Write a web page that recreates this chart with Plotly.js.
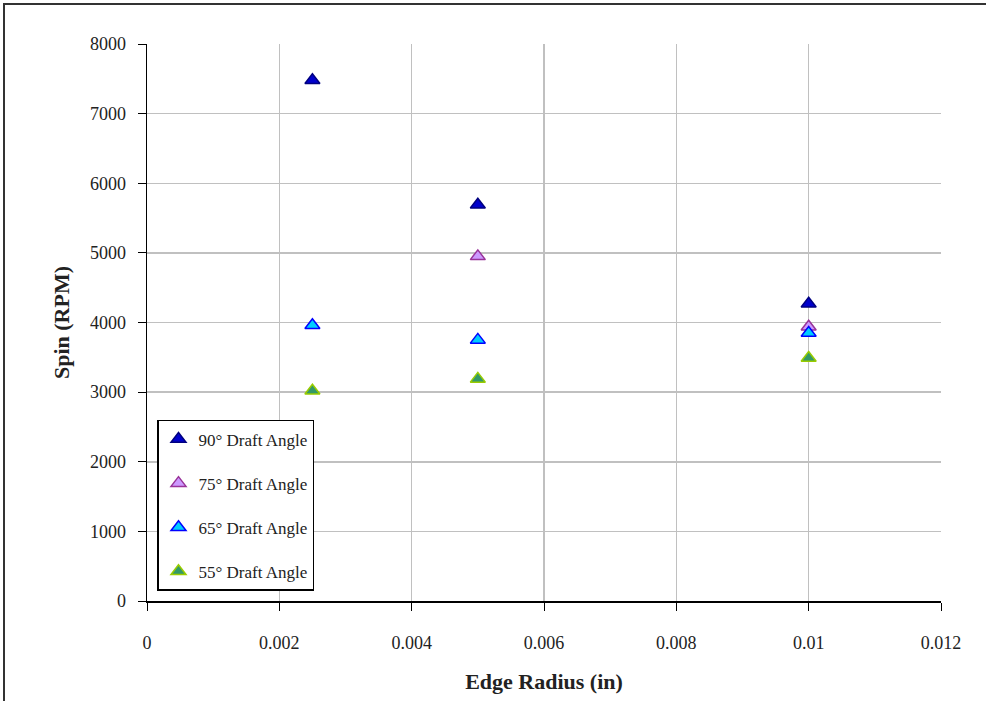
<!DOCTYPE html>
<html><head><meta charset="utf-8">
<script src="https://cdn.plot.ly/plotly-3.0.1.min.js"></script>
<style>
html,body{margin:0;padding:0;background:#fff;}
#wrap{position:relative;width:986px;height:701px;overflow:hidden;}
#chart{width:986px;height:701px;}
#frame{position:absolute;left:3px;top:3px;width:1000px;height:720px;border:2px solid #333;pointer-events:none;}
</style></head>
<body><div id="wrap"><div id="chart"></div><div id="frame"></div></div>
<script>
const names = ["90\u00b0 Draft Angle","75\u00b0 Draft Angle","65\u00b0 Draft Angle","55\u00b0 Draft Angle"];
const x90 = [0.0025, 0.005, 0.01];
const y90 = [7480, 5690, 4270];
const x75 = [0.005, 0.01];
const y75 = [4950, 3940];
const x65 = [0.0025, 0.005, 0.01];
const y65 = [3960, 3750, 3850];
const x55 = [0.0025, 0.005, 0.01];
const y55 = [3020, 3190, 3490];
const xTicks = [0, 0.002, 0.004, 0.006, 0.008, 0.01, 0.012];
const xTickText = ["0","0.002","0.004","0.006","0.008","0.01","0.012"];
const yTicks = [0,1000,2000,3000,4000,5000,6000,7000,8000];

const fills = ["#0000CC","#CC99FF","#00CCFF","#339966"];
const edges = ["#000080","#993399","#0000FF","#99CC00"];
const xs = [x90,x75,x65,x55], ys=[y90,y75,y65,y55];
const traces = names.map((n,i)=>({
  type:"scatter", mode:"markers", name:n, x:xs[i], y:ys[i],
  legendgroup:"g"+i,
  marker:{symbol:"triangle-up", size:13, color:fills[i], line:{color:edges[i], width:1.5}}
}));
const font = "Liberation Serif, Times New Roman, serif";
const layout = {
  width:986, height:701,
  margin:{l:147, r:45, t:44, b:100},
  paper_bgcolor:"#fff", plot_bgcolor:"#fff",
  font:{family:font, size:18, color:"#000"},
  showlegend:true,
  legend:{x:0.0126, y:0.325, xanchor:"left", yanchor:"top", bgcolor:"#fff",
    bordercolor:"#000", borderwidth:1.5, tracegroupgap:19, traceorder:"grouped",
    font:{family:font, size:17, color:"#222"}},
  xaxis:{range:[0,0.012], tickvals:xTicks, ticktext:xTickText, showgrid:true, gridcolor:"#c0c0c0", gridwidth:1.5,
    zeroline:false, showline:true, linecolor:"#000", linewidth:1.5, ticks:"outside", ticklen:8, tickcolor:"#000",
    ticklabelstandoff:17,
    tickfont:{family:font,size:18,color:"#222"},
    title:{text:"<b>Edge Radius (in)</b>", font:{family:font,size:22,color:"#222"}, standoff:21}},
  yaxis:{range:[0,8000], tickvals:yTicks, showgrid:true, gridcolor:"#c0c0c0", gridwidth:1.5,
    zeroline:false, showline:true, linecolor:"#000", linewidth:1.5, ticks:"outside", ticklen:8, tickcolor:"#000",
    ticklabelstandoff:8,
    tickfont:{family:font,size:18,color:"#222"},
    title:{text:"<b>Spin (RPM)</b>", font:{family:font,size:22,color:"#222"}, standoff:14}}
};
Plotly.newPlot("chart", traces, layout, {displayModeBar:false, staticPlot:true});
</script></body></html>
